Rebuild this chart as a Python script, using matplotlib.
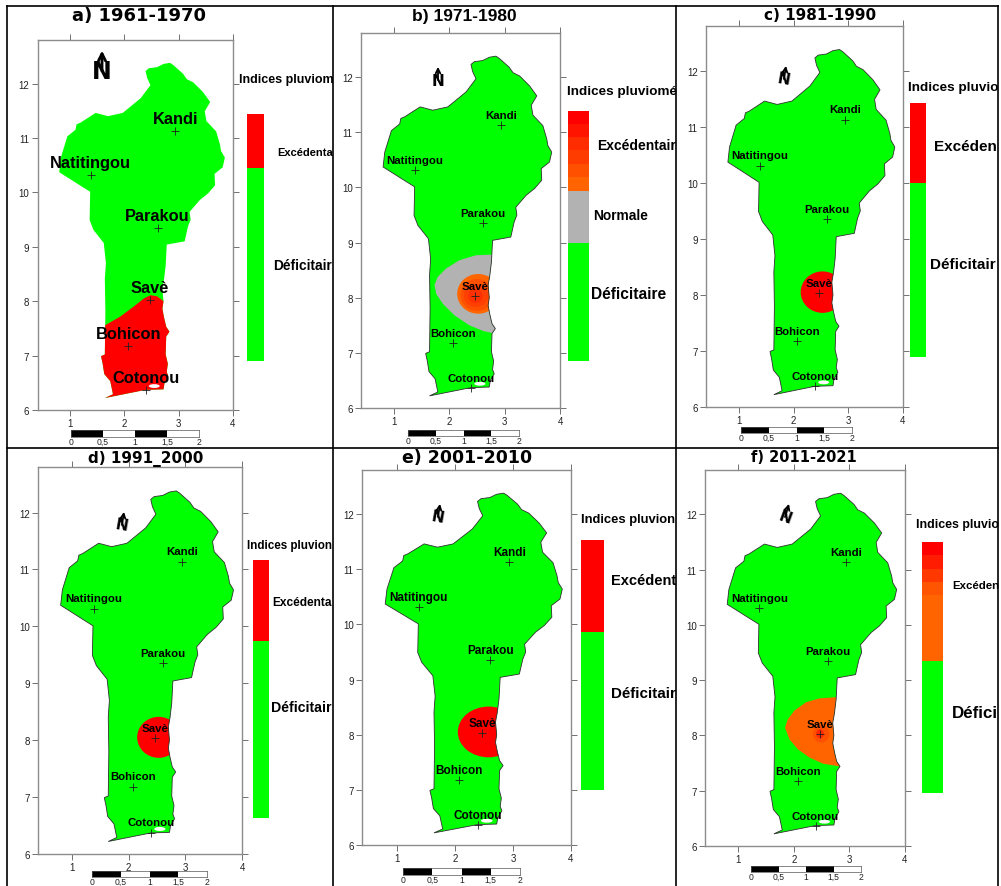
from __future__ import annotations

import matplotlib

matplotlib.use("Agg")
import matplotlib.pyplot as plt
from matplotlib.patches import Ellipse, Polygon

W, H = 1001, 887

# Benin outline
OUTLINE_LON = [2.39, 2.45, 2.60, 2.72, 2.84, 2.90, 3.08, 3.15, 3.27, 3.45, 3.58, 3.48, 3.51, 3.69, 3.76, 3.78, 3.85,
               3.81, 3.66, 3.67, 3.54, 3.39, 3.20, 3.22, 3.17, 3.11, 2.78, 2.76, 2.73, 2.70, 2.72, 2.70, 2.73, 2.77,
               2.83, 2.77, 2.76, 2.80, 2.78, 2.81, 2.74, 2.72, 2.39, 1.64, 1.79, 1.74, 1.63, 1.60, 1.57, 1.64, 1.65,
               1.64, 1.66, 1.62, 1.43, 1.36, 1.37, 0.80, 0.83, 0.95, 1.10, 1.12, 1.19, 1.47, 1.70, 1.97, 2.30, 2.48,
               2.42]
OUTLINE_LAT = [12.23, 12.28, 12.30, 12.36, 12.38, 12.34, 12.18, 12.08, 12.02, 11.84, 11.66, 11.49, 11.31, 11.12, 10.88,
               10.76, 10.64, 10.46, 10.34, 10.13, 9.98, 9.86, 9.64, 9.50, 9.37, 9.10, 9.04, 8.65, 8.40, 8.23, 8.00,
               7.86, 7.70, 7.53, 7.44, 7.35, 7.02, 6.85, 6.70, 6.62, 6.50, 6.38, 6.37, 6.22, 6.29, 6.53, 6.66, 6.85,
               6.99, 7.02, 7.80, 8.41, 8.70, 9.07, 9.31, 9.49, 10.01, 10.37, 10.64, 11.03, 11.15, 11.25, 11.28, 11.46,
               11.40, 11.46, 11.73, 11.97, 12.10]

CITIES = ["Kandi", "Natitingou", "Parakou", "Savè", "Bohicon", "Cotonou"]
CITY_LON = [2.94, 1.38, 2.61, 2.47, 2.07, 2.39]
CITY_LAT = [11.13, 10.31, 9.35, 8.03, 7.18, 6.37]

TITLES = ["a) 1961-1970", "b) 1971-1980", "c) 1981-1990", "d) 1991_2000", "e) 2001-2010", "f) 2011-2021"]

# anomaly zones, in lon/lat
ZONE_A_LON = [1.40, 1.65, 1.93, 2.17, 2.36, 2.48, 2.60, 2.72, 3.00, 3.00, 1.40]
ZONE_A_LAT = [7.56, 7.56, 7.72, 7.90, 8.05, 8.11, 8.09, 8.00, 8.00, 6.00, 6.00]
ZONE_B_LON = [2.73, 2.48, 2.18, 1.94, 1.79, 1.73, 1.76, 1.88, 2.09, 2.36, 2.60, 2.81, 3.00, 3.00]
ZONE_B_LAT = [8.78, 8.77, 8.68, 8.53, 8.38, 8.23, 8.07, 7.89, 7.68, 7.50, 7.40, 7.35, 7.35, 8.78]
ZONE_F_LON = [2.75, 2.46, 2.22, 2.01, 1.89, 1.84, 1.92, 2.07, 2.28, 2.52, 2.82, 3.00, 3.00]
ZONE_F_LAT = [8.69, 8.67, 8.60, 8.45, 8.29, 8.14, 7.93, 7.75, 7.60, 7.49, 7.44, 7.44, 8.69]

# core blobs around Savè: lon, lat, x radius, y radius, colour
CORES_B = [(2.52, 8.07, 0.38, 0.36, "#ff6600"), (2.50, 8.05, 0.30, 0.29, "#ff5000"),
           (2.48, 8.04, 0.22, 0.21, "#ff4000"), (2.47, 8.03, 0.13, 0.13, "#ff3000")]
CORES_C = [(2.53, 8.05, 0.40, 0.37, "#ff0000")]
CORES_D = [(2.53, 8.05, 0.38, 0.36, "#ff0000")]
CORES_E = [(2.58, 8.05, 0.53, 0.46, "#ff0000")]
CORES_F = [(2.49, 8.03, 0.15, 0.16, "#ff5000"), (2.47, 8.03, 0.07, 0.08, "#ff2800")]

# legend bands, top to bottom: colour, height
BANDS_A = [("#ff0000", 54), ("#00ff00", 193)]
BANDS_B = [("#ff0000", 13), ("#ff1400", 13), ("#ff2c00", 13), ("#ff3c00", 14), ("#ff5000", 13), ("#ff6400", 14),
           ("#b2b2b2", 52), ("#00ff00", 118)]
BANDS_C = [("#ff0000", 80), ("#00ff00", 174)]
BANDS_D = [("#ff0000", 81), ("#00ff00", 177)]
BANDS_E = [("#ff0000", 92), ("#00ff00", 158)]
BANDS_F = [("#ff0000", 13), ("#ff1c00", 14), ("#ff3800", 13), ("#ff5400", 13), ("#ff6400", 66), ("#00ff00", 132)]

SCALE_LABELS = ["0", "0,5", "1", "1,5", "2"]

# legend words as far as the page shows them
HEADS = ["Indices pluviom", "Indices pluviomé", "Indices pluvio", "Indices pluvion", "Indices pluvion", "Indices pluvio"]
EXCESS = ["Excédenta", "Excédentair", "Excéden", "Excédenta", "Excédent", "Excéden"]
DEFICIT = ["Déficitair", "Déficitaire", "Déficitair", "Déficitair", "Déficitair", "Défici"]

# per panel layout in pixels
PANELS = [
    dict(box=(37.5, 41, 233, 411), cbar=(247, 115, 264, 362), bands=BANDS_A, zone=(ZONE_A_LON, ZONE_A_LAT, "#ff0000"),
         cores=[], fs=11.8, dy=0.23, title=(139, 16, 13, "DejaVu Sans"), scale=(71, 199, 431, 438), north=(102, 72, 17, 0),
         head=(239, 80, 9), exc=(277, 153, 8), deficit=(273, 266, 9.9), normal=None, edge=False),
    dict(box=(361, 34, 560, 409), cbar=(568, 112, 589, 362), bands=BANDS_B, zone=(ZONE_B_LON, ZONE_B_LAT, "#b2b2b2"),
         cores=CORES_B, fs=8.2, dy=0.18, title=(464, 17, 12.5, "Liberation Sans"), scale=(408, 519, 431, 437), north=(438, 81, 11, 0),
         head=(567, 92, 9.7), exc=(597, 146, 10), deficit=(591, 295, 11.2), normal=(593, 216, 9.9), edge=True),
    dict(box=(706, 27, 903, 408), cbar=(910, 104, 926, 358), bands=BANDS_C, zone=None,
         cores=CORES_C, fs=8.2, dy=0.18, title=(820, 16, 11, "DejaVu Sans"), scale=(741, 852, 428, 434), north=(784, 80, 11, -10),
         head=(908, 88, 9.7), exc=(934, 147, 11), deficit=(930, 265, 11), normal=None, edge=True),
    dict(box=(38, 468, 242, 855), cbar=(253, 561, 269, 819), bands=BANDS_D, zone=None,
         cores=CORES_D, fs=8.2, dy=0.19, title=(146, 459, 11, "DejaVu Sans"), scale=(92, 207, 872, 878), north=(122, 526, 11, -10),
         head=(247, 546, 8.4), exc=(272, 603, 8.6), deficit=(271, 708, 10.2), normal=None, edge=True),
    dict(box=(362, 471, 571, 846), cbar=(581, 541, 604, 791), bands=BANDS_E, zone=None,
         cores=CORES_E, fs=8.5, dy=0.18, title=(467, 458, 12.5, "DejaVu Sans"), scale=(403, 520, 869, 876), north=(438, 518, 11, -10),
         head=(581, 520, 9.4), exc=(611, 581, 10.5), deficit=(611, 694, 10.9), normal=None, edge=True),
    dict(box=(705, 471, 905, 847), cbar=(922, 543, 943, 794), bands=BANDS_F, zone=(ZONE_F_LON, ZONE_F_LAT, "#ff6400"),
         cores=CORES_F, fs=8.2, dy=0.18, title=(804, 458, 10.5, "DejaVu Sans"), scale=(751, 861, 867, 873), north=(785, 518, 11, -20),
         head=(916, 525, 8.9), exc=(952, 586, 8.2), deficit=(952, 714, 12.2), normal=None, edge=True),
]

plt.rcParams["font.family"] = ["Liberation Sans", "DejaVu Sans"]


def px_axes(fig, x0, y0, x1, y1, **kw):
    return fig.add_axes([x0 / W, 1 - y1 / H, (x1 - x0) / W, (y1 - y0) / H], **kw)


def draw_map(fig, p):
    ax = px_axes(fig, *p["box"])
    ax.set_xlim(0.4, 4.0)
    ax.set_ylim(6.0, 12.8)
    ax.set_xticks([1, 2, 3, 4])
    ax.set_yticks([6, 7, 8, 9, 10, 11, 12])
    ax.tick_params(top=True, right=True, length=4, width=0.7, color="#707070", labelsize=7, pad=2, labelcolor="#222222")
    for s in ax.spines.values():
        s.set_color("#8c8c8c")
        s.set_linewidth(1.0)

    outline = list(zip(OUTLINE_LON, OUTLINE_LAT))
    land = Polygon(outline, closed=True, fc="#00ff00", ec="none", zorder=2)
    ax.add_patch(land)
    if p["zone"]:
        lon, lat, col = p["zone"]
        z = Polygon(list(zip(lon, lat)), closed=True, fc=col, ec="none", zorder=3)
        ax.add_patch(z)
        z.set_clip_path(land)
    for lon, lat, rx, ry, col in p["cores"]:
        e = Ellipse((lon, lat), 2 * rx, 2 * ry, fc=col, ec="none", zorder=4)
        ax.add_patch(e)
        e.set_clip_path(land)
    # lagoon notch near Cotonou
    ax.add_patch(Ellipse((2.55, 6.44), 0.2, 0.07, fc="white", ec="none", zorder=5))
    if p["edge"]:
        ax.add_patch(Polygon(outline, closed=True, fc="none", ec="#303030", lw=0.6, zorder=6))

    ax.scatter(CITY_LON, CITY_LAT, marker="+", s=28, c="#202020", linewidths=0.6, zorder=7)
    for name, lon, lat in zip(CITIES, CITY_LON, CITY_LAT):
        ax.text(lon, lat + p["dy"], name, ha="center", va="center", fontsize=p["fs"], fontweight="bold", zorder=8)


def draw_cbar(fig, p):
    ax = px_axes(fig, *p["cbar"])
    heights = [b[1] for b in p["bands"]]
    ax.set_xlim(0, 1)
    ax.set_ylim(sum(heights), 0)
    ax.axis("off")
    top = 0
    for col, h in p["bands"]:
        ax.bar(0.5, h, width=1, bottom=top, color=col, linewidth=0)
        top += h


def draw_scale(fig, p):
    x0, x1, y0, y1 = p["scale"]
    ax = px_axes(fig, x0, y0, x1, y1)
    ax.set_xlim(0, 2)
    ax.set_ylim(0, 1)
    ax.set_yticks([])
    ax.set_xticks([0, 0.5, 1, 1.5, 2], SCALE_LABELS)
    ax.tick_params(length=0, labelsize=6.2, pad=0.2, labelcolor="#222222")
    ax.bar([0.25, 1.25], 1, width=0.5, color="black", linewidth=0)
    for s in ax.spines.values():
        s.set_linewidth(0.5)
        s.set_color("#555555")


def draw_page(fig):
    page = px_axes(fig, 0, 0, W, H, zorder=10)
    page.set_xlim(0, W)
    page.set_ylim(H, 0)
    page.axis("off")
    page.patch.set_alpha(0)

    # table rules between the panels
    for x in [7, 333, 676, 998]:
        page.plot([x, x], [7, H], c="black", lw=1.2)
    for y in [7, 449]:
        page.plot([7, 998], [y, y], c="black", lw=1.2)

    for i, (p, title) in enumerate(zip(PANELS, TITLES)):
        tx, ty, tfs, tfam = p["title"]
        page.text(tx, ty, title, ha="center", va="center", fontsize=tfs, fontweight="bold", family=tfam)

        nx, ny, nfs, rot = p["north"]
        page.text(nx, ny, "N", ha="center", va="center", fontsize=nfs, fontweight="bold", rotation=rot,
                  family="DejaVu Sans")
        page.annotate("", xy=(nx + rot * -0.2, ny - nfs * 1.2), xytext=(nx, ny),
                      arrowprops=dict(arrowstyle="->", lw=nfs * 0.12, color="black", mutation_scale=nfs * 0.75,
                                      shrinkA=0, shrinkB=0))

        labels = [(HEADS[i], p["head"]), (EXCESS[i], p["exc"]), (DEFICIT[i], p["deficit"])]
        if p["normal"]:
            labels.append(("Normale", p["normal"]))
        for txt, (x, y, fs) in labels:
            page.text(x, y, txt, ha="left", va="center", fontsize=fs, fontweight="bold")


def main() -> None:
    fig = plt.figure(figsize=(W / 100, H / 100), dpi=100, facecolor="white")
    for p in PANELS:
        draw_map(fig, p)
        draw_cbar(fig, p)
        draw_scale(fig, p)
    draw_page(fig)
    fig.savefig("out.png", dpi=100)
    plt.close(fig)


if __name__ == "__main__":
    main()
